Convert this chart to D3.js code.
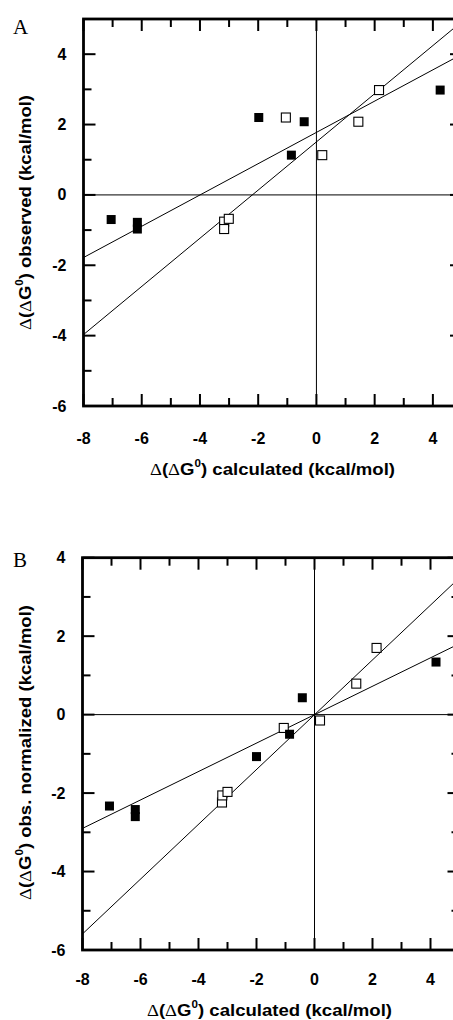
<!DOCTYPE html>
<meta charset="utf-8">
<style>
  html, body { margin: 0; padding: 0; overflow: hidden; background: #fff; }
  text { font-family: "Liberation Sans", Arial, sans-serif; font-weight: bold; fill: #000; }
</style>
<body>
<script src="https://cdn.jsdelivr.net/npm/d3@7"></script>
<script>
// tick values shared by both panels
var xTicks = [-8, -6, -4, -2, 0, 2, 4];
var yTicks = [-6, -4, -2, 0, 2, 4];

// panel A : observed vs calculated
var filledA = [[-7.05, -0.70], [-6.15, -0.78], [-6.15, -0.97], [-1.98, 2.20],
               [-0.86, 1.13], [-0.42, 2.08], [4.25, 2.98]];
var openA   = [[-3.17, -0.76], [-3.17, -0.97], [-3.01, -0.68], [-1.05, 2.20],
               [0.20, 1.13], [1.44, 2.08], [2.15, 2.98]];
var fitA    = [[[-8, -1.78], [5, 4.00]], [[-8, -3.97], [5, 4.93]]];

// panel B : normalized observed vs calculated
var filledB = [[-7.07, -2.33], [-6.18, -2.42], [-6.18, -2.60], [-2.00, -1.07],
               [-0.86, -0.50], [-0.42, 0.43], [4.19, 1.34]];
var openB   = [[-3.19, -2.24], [-3.18, -2.06], [-3.00, -1.97], [-1.06, -0.34],
               [0.19, -0.15], [1.44, 0.79], [2.14, 1.70]];
var fitB    = [[[-8, -2.90], [5, 1.81]], [[-8, -5.59], [5, 3.49]]];

var svg = d3.select("body").append("svg")
    .attr("width", 453)
    .attr("height", 1020);

function drawPanel(p) {
  var x = d3.scaleLinear().domain([-8, 5]).range([p.left, p.right]);
  var y = d3.scaleLinear().domain(p.ydom).range([p.bottom, p.top]);
  var g = svg.append("g");

  // zero lines
  g.append("line").attr("x1", x(-8)).attr("x2", x(5)).attr("y1", y(0)).attr("y2", y(0))
    .attr("stroke", "#000").attr("stroke-width", 1);
  g.append("line").attr("x1", x(0)).attr("x2", x(0)).attr("y1", y(p.ydom[0])).attr("y2", y(p.ydom[1]))
    .attr("stroke", "#000").attr("stroke-width", 1);

  // fitted lines
  var line = d3.line().x(function(d) { return x(d[0]); }).y(function(d) { return y(d[1]); });
  g.selectAll(".fit").data(p.fits).enter().append("path")
    .attr("d", line).attr("fill", "none").attr("stroke", "#000").attr("stroke-width", 1);

  // inward ticks on all four sides, long at even values
  var xt = d3.range(-8, 6), yt = d3.range(p.ydom[0], p.ydom[1] + 1);
  function len(v) { return v % 2 === 0 ? 12 : 8; }
  xt.forEach(function(v) {
    g.append("line").attr("x1", x(v)).attr("x2", x(v)).attr("y1", y(p.ydom[0])).attr("y2", y(p.ydom[0]) - len(v))
      .attr("stroke", "#000").attr("stroke-width", 2);
    g.append("line").attr("x1", x(v)).attr("x2", x(v)).attr("y1", y(p.ydom[1])).attr("y2", y(p.ydom[1]) + len(v))
      .attr("stroke", "#000").attr("stroke-width", 2);
  });
  yt.forEach(function(v) {
    g.append("line").attr("x1", x(-8)).attr("x2", x(-8) + len(v)).attr("y1", y(v)).attr("y2", y(v))
      .attr("stroke", "#000").attr("stroke-width", 2);
    g.append("line").attr("x1", x(5)).attr("x2", x(5) - len(v)).attr("y1", y(v)).attr("y2", y(v))
      .attr("stroke", "#000").attr("stroke-width", 2);
  });

  // frame
  g.append("rect").attr("x", x(-8)).attr("y", y(p.ydom[1]))
    .attr("width", x(5) - x(-8)).attr("height", y(p.ydom[0]) - y(p.ydom[1]))
    .attr("fill", "none").attr("stroke", "#000").attr("stroke-width", 2.8);

  // points
  var s = 9;
  g.selectAll(".open").data(p.open).enter().append("rect")
    .attr("x", function(d) { return x(d[0]) - s / 2; })
    .attr("y", function(d) { return y(d[1]) - s / 2; })
    .attr("width", s).attr("height", s)
    .attr("fill", "#fff").attr("stroke", "#000").attr("stroke-width", 1.1);
  g.selectAll(".filled").data(p.filled).enter().append("rect")
    .attr("x", function(d) { return x(d[0]) - s / 2; })
    .attr("y", function(d) { return y(d[1]) - s / 2; })
    .attr("width", s).attr("height", s)
    .attr("fill", "#000");

  // tick labels
  g.selectAll(".xl").data(xTicks).enter().append("text")
    .attr("x", function(d) { return x(d); }).attr("y", p.bottom + p.xlab)
    .attr("text-anchor", "middle").attr("dominant-baseline", "central")
    .style("font-size", "16px").text(function(d) { return d; });
  g.selectAll(".yl").data(p.yticks).enter().append("text")
    .attr("x", p.left - 17).attr("y", function(d) { return y(d); })
    .attr("text-anchor", "end").attr("dominant-baseline", "central")
    .style("font-size", "16px").text(function(d) { return d; });

  // axis titles
  function title(t, label) {
    t.append("tspan").style("font-family", "'Liberation Serif', serif").style("font-weight", "normal").text("\u0394");
    t.append("tspan").text("(");
    t.append("tspan").style("font-family", "'Liberation Serif', serif").style("font-weight", "normal").text("\u0394");
    t.append("tspan").text("G");
    t.append("tspan").attr("dy", -6).style("font-size", "10px").text("0");
    t.append("tspan").attr("dy", 6).text(") " + label);
  }
  var xtit = g.append("text").attr("x", p.xtitleX - p.xtitleLen / 2).attr("y", p.xtitle)
    .attr("dominant-baseline", "central").style("font-size", "16px")
    .attr("textLength", p.xtitleLen).attr("lengthAdjust", "spacingAndGlyphs");
  title(xtit, "calculated (kcal/mol)");
  var ytit = g.append("text")
    .attr("transform", "translate(25," + p.ytitleY + ") rotate(-90)")
    .attr("x", -p.ytitleLen / 2)
    .attr("dominant-baseline", "central").style("font-size", "16px")
    .attr("textLength", p.ytitleLen).attr("lengthAdjust", "spacingAndGlyphs");
  title(ytit, p.ylabel);

  // panel letter
  g.append("text").attr("x", 13).attr("y", p.letterY)
    .style("font-family", "'Liberation Serif', serif").style("font-weight", "normal")
    .style("font-size", "21px").text(p.letter);
}

drawPanel({
  left: 83.5, right: 462, top: 19, bottom: 406, ydom: [-6, 5],
  yticks: yTicks, filled: filledA, open: openA, fits: fitA,
  xlab: 32, xtitle: 469, xtitleX: 272.5, xtitleLen: 245,
  ylabel: "observed (kcal/mol)", ytitleY: 212.5, ytitleLen: 235,
  letter: "A", letterY: 34
});
drawPanel({
  left: 82.5, right: 459.5, top: 557.7, bottom: 950, ydom: [-6, 4],
  yticks: yTicks, filled: filledB, open: openB, fits: fitB,
  xlab: 29, xtitle: 1010, xtitleX: 269.5, xtitleLen: 245,
  ylabel: "obs. normalized (kcal/mol)", ytitleY: 752.5, ytitleLen: 295,
  letter: "B", letterY: 567
});
</script>
</body>
